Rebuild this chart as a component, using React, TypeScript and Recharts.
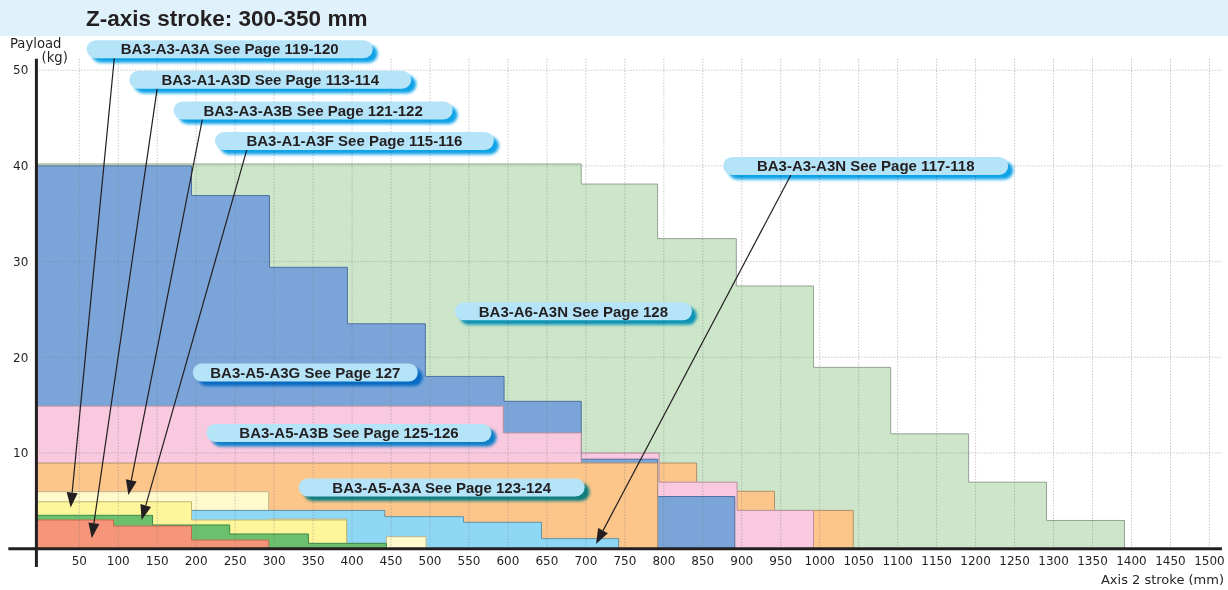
import React from "react"
import { ComposedChart, Area, XAxis, YAxis, ReferenceLine, ReferenceDot } from "recharts"

// Axis 2 stroke (mm) on x, payload (kg) on y
const xTicks = [50, 100, 150, 200, 250, 300, 350, 400, 450, 500, 550, 600, 650, 700, 750, 800, 850, 900, 950, 1000, 1050, 1100, 1150, 1200, 1250, 1300, 1350, 1400, 1450, 1500]
const yTicks = [10, 20, 30, 40, 50]
const X_MIN = -5
const X_MAX = 1516
const Y_MAX = 51.2

// each model: step edges (mm) and payload on each step (kg)
const a6a3nStops = [X_MIN, 694, 792, 893, 992, 1091, 1191, 1291, 1391]
const a6a3nLoad = [40.2, 38.1, 32.4, 27.45, 18.95, 12, 6.95, 2.95]

const a5a3gStops = [X_MIN, 194, 294, 394, 494, 595, 694]
const a5a3gLoad = [40, 36.9, 29.4, 23.5, 18, 15.4]
const a5a3gTailStops = [694, 792, 891]
const a5a3gTailLoad = [9.35, 5.45]

const a5a3bStops = [X_MIN, 594, 694]
const a5a3bLoad = [14.9, 12.1]
const a5a3bTailStops = [694, 794, 894, 992]
const a5a3bTailLoad = [10, 6.95, 4]

const a5a3aStops = [X_MIN, 792]
const a5a3aLoad = [8.95]
const a5a3aTailStops = [792, 842, 942, 1043]
const a5a3aTailLoad = [8.95, 6, 4]

const a3a3bStops = [X_MIN, 293]
const a3a3bLoad = [5.96]
const a3a3bTailStops = [293, 393, 444, 495]
const a3a3bTailLoad = [3.1, 0.5, 1.25]

const a3a3nStops = [X_MIN, 442, 543, 643, 742]
const a3a3nLoad = [4, 3.35, 2.76, 1.05]

const a3a3aStops = [X_MIN, 194, 393]
const a3a3aLoad = [4.9, 3]

const a1a3fStops = [X_MIN, 144, 243, 344, 444]
const a1a3fLoad = [3.49, 2.48, 1.54, 0.56]

const a1a3dStops = [X_MIN, 94, 194, 293]
const a1a3dLoad = [3, 2.37, 0.9]

// callouts: text, centre (mm, kg), pill width in px
const callouts = [
  { text: "BA3-A3-A3A See Page 119-120", x: 243, y: 52.2, w: 286 },
  { text: "BA3-A1-A3D See Page 113-114", x: 295, y: 49.0, w: 282 },
  { text: "BA3-A3-A3B See Page 121-122", x: 350, y: 45.8, w: 279 },
  { text: "BA3-A1-A3F See Page 115-116", x: 403, y: 42.6, w: 279 },
  { text: "BA3-A3-A3N See Page 117-118", x: 1059, y: 40.0, w: 285 },
  { text: "BA3-A6-A3N See Page 128", x: 684, y: 24.8, w: 237 },
  { text: "BA3-A5-A3G See Page 127", x: 340, y: 18.4, w: 225 },
  { text: "BA3-A5-A3B See Page 125-126", x: 396, y: 12.1, w: 285 },
  { text: "BA3-A5-A3A See Page 123-124", x: 515, y: 6.4, w: 286 },
]

// leader arrows: from (mm, kg) to (mm, kg)
const arrows = [
  [[95, 51.3], [39, 4.3]],
  [[150, 48.1], [66, 1.1]],
  [[208, 44.9], [113, 5.6]],
  [[265, 41.7], [130, 3.0]],
  [[963, 39.05], [713, 0.5]],
]

const toSteps = (stops: number[], loads: number[]) => {
  const pts = loads.map((y, i) => ({ x: stops[i], y }))
  const end = stops[stops.length - 1]
  pts.push({ x: end, y: loads[loads.length - 1] })
  pts.push({ x: end, y: 0 })
  return pts
}

const GREEN = { fill: "#cde6c9", stroke: "#94a394" }
const BLUE = { fill: "#7ba5d9", stroke: "#4f6f9e" }
const PINK = { fill: "#f9c9df", stroke: "#b7909f" }
const ORANGE = { fill: "#fcc68b", stroke: "#b39068" }
const PALE = { fill: "#fffacb", stroke: "#bdb58e" }
const SKY = { fill: "#8ed8f6", stroke: "#5f93aa" }
const YELLOW = { fill: "#fff59b", stroke: "#c0b572" }
const LEAF = { fill: "#6cbf6d", stroke: "#3d8a4a" }
const SALMON = { fill: "#f5967a", stroke: "#c46a52" }

// back to front
const layers = [
  { id: "a6a3n", data: toSteps(a6a3nStops, a6a3nLoad), ...GREEN },
  { id: "a5a3aTail", data: toSteps(a5a3aTailStops, a5a3aTailLoad), ...ORANGE },
  { id: "a5a3bTail", data: toSteps(a5a3bTailStops, a5a3bTailLoad), ...PINK },
  { id: "a5a3gTail", data: toSteps(a5a3gTailStops, a5a3gTailLoad), ...BLUE },
  { id: "a5a3g", data: toSteps(a5a3gStops, a5a3gLoad), ...BLUE },
  { id: "a5a3b", data: toSteps(a5a3bStops, a5a3bLoad), ...PINK },
  { id: "a5a3a", data: toSteps(a5a3aStops, a5a3aLoad), ...ORANGE },
  { id: "a3a3b", data: toSteps(a3a3bStops, a3a3bLoad), ...PALE },
  { id: "a3a3n", data: toSteps(a3a3nStops, a3a3nLoad), ...SKY },
  { id: "a3a3bTail", data: toSteps(a3a3bTailStops, a3a3bTailLoad), ...PALE },
  { id: "a3a3a", data: toSteps(a3a3aStops, a3a3aLoad), ...YELLOW },
  { id: "a1a3f", data: toSteps(a1a3fStops, a1a3fLoad), ...LEAF },
  { id: "a1a3d", data: toSteps(a1a3dStops, a1a3dLoad), ...SALMON },
]

const INK = "#231f20"
const tickFont = { fontFamily: "DejaVu Sans", fontSize: 12, fill: INK }

const Arrow = (p: any) => {
  const { x1, y1, x2, y2 } = p
  const len = Math.hypot(x2 - x1, y2 - y1) || 1
  const ux = (x2 - x1) / len
  const uy = (y2 - y1) / len
  const bx = x2 - ux * 15
  const by = y2 - uy * 15
  const hw = 5.5
  return (
    <g>
      <line x1={x1} y1={y1} x2={bx} y2={by} stroke={INK} strokeWidth={1.2} />
      <polygon
        points={`${x2},${y2} ${bx - uy * hw},${by + ux * hw} ${bx + uy * hw},${by - ux * hw}`}
        fill={INK}
      />
    </g>
  )
}

const Pill = ({ cx, cy, text, w, idx }: any) => {
  const h = 18
  return (
    <g>
      <defs>
        <filter id={`pill-blur-${idx}`} x="-10%" y="-50%" width="120%" height="200%">
          <feGaussianBlur stdDeviation="1.8" />
        </filter>
      </defs>
      <rect
        x={cx - w / 2 + 5}
        y={cy - h / 2 + 4.5}
        width={w}
        height={h}
        rx={h / 2}
        fill="#0ea3e6"
        filter={`url(#pill-blur-${idx})`}
        style={{ mixBlendMode: "multiply" }}
      />
      <rect x={cx - w / 2} y={cy - h / 2} width={w} height={h} rx={h / 2} fill="#b5e4f8" />
      <text
        x={cx}
        y={cy + 5.3}
        textAnchor="middle"
        fontFamily="Liberation Sans, Arial, sans-serif"
        fontWeight="bold"
        fontSize={15}
        fill={INK}
      >
        {text}
      </text>
    </g>
  )
}

const App = () => {
  return (
    <div style={{ position: "absolute", left: 0, top: 0, width: 1228, height: 590, background: "#fff" }}>
      <svg width={1228} height={590} style={{ position: "absolute", left: 0, top: 0 }}>
        <rect x={0} y={0} width={1228} height={36} fill="#dff1fa" />
        <text x={86} y={26} fontFamily="Liberation Sans, Arial, sans-serif" fontWeight="bold" fontSize={22.5} fill={INK}>
          Z-axis stroke: 300-350 mm
        </text>
        <text x={10} y={48.3} fontFamily="DejaVu Sans" fontSize={13.2} fill={INK}>Payload</text>
        <text x={41.5} y={62.3} fontFamily="DejaVu Sans" fontSize={13.2} fill={INK}>(kg)</text>
        <text x={1224} y={584} textAnchor="end" fontFamily="DejaVu Sans" fontSize={13} fill={INK}>
          Axis 2 stroke (mm)
        </text>
      </svg>
      <div style={{ position: "absolute", left: 0, top: 0 }}>
        <ComposedChart width={1228} height={590} margin={{ top: 58.7, right: 6.1, bottom: 0, left: 0 }}>
          <XAxis
            type="number"
            dataKey="x"
            domain={[X_MIN, X_MAX]}
            allowDataOverflow
            ticks={xTicks}
            interval={0}
            axisLine={false}
            tickLine={false}
            tickSize={0}
            tickMargin={7.8}
            height={41.3}
            tick={tickFont}
          />
          <YAxis
            type="number"
            domain={[0, Y_MAX]}
            allowDataOverflow
            ticks={yTicks}
            interval={0}
            axisLine={false}
            tickLine={false}
            tickSize={0}
            tickMargin={8}
            width={36.4}
            tick={tickFont}
          />
          {layers.map((l) => (
            <Area
              key={l.id}
              data={l.data}
              dataKey="y"
              type="stepAfter"
              fill={l.fill}
              fillOpacity={1}
              stroke={l.stroke}
              strokeWidth={1}
              dot={false}
              activeDot={false}
              isAnimationActive={false}
            />
          ))}
          {xTicks.map((t) => (
            <ReferenceLine key={`gx${t}`} x={t} stroke="#7a7a7a" strokeOpacity={0.6} strokeDasharray="1 2" />
          ))}
          {yTicks.map((t) => (
            <ReferenceLine key={`gy${t}`} y={t} stroke="#7a7a7a" strokeOpacity={0.6} strokeDasharray="1 2" />
          ))}
          <ReferenceLine
            segment={[{ x: -41, y: 0 }, { x: X_MAX, y: 0 }]}
            stroke={INK}
            strokeWidth={3}
            ifOverflow="visible"
          />
          <ReferenceLine
            segment={[{ x: X_MIN, y: -1.9 }, { x: X_MIN, y: Y_MAX }]}
            stroke={INK}
            strokeWidth={3}
            ifOverflow="visible"
          />
          {arrows.map(([a, b], i) => (
            <ReferenceLine
              key={`ar${i}`}
              segment={[{ x: a[0], y: a[1] }, { x: b[0], y: b[1] }]}
              ifOverflow="visible"
              shape={Arrow}
            />
          ))}
          {callouts.map((c, i) => (
            <ReferenceDot
              key={`co${i}`}
              x={c.x}
              y={c.y}
              r={1}
              ifOverflow="visible"
              shape={(p: any) => <Pill cx={p.cx} cy={p.cy} text={c.text} w={c.w} idx={i} />}
            />
          ))}
        </ComposedChart>
      </div>
    </div>
  )
}

export default App
